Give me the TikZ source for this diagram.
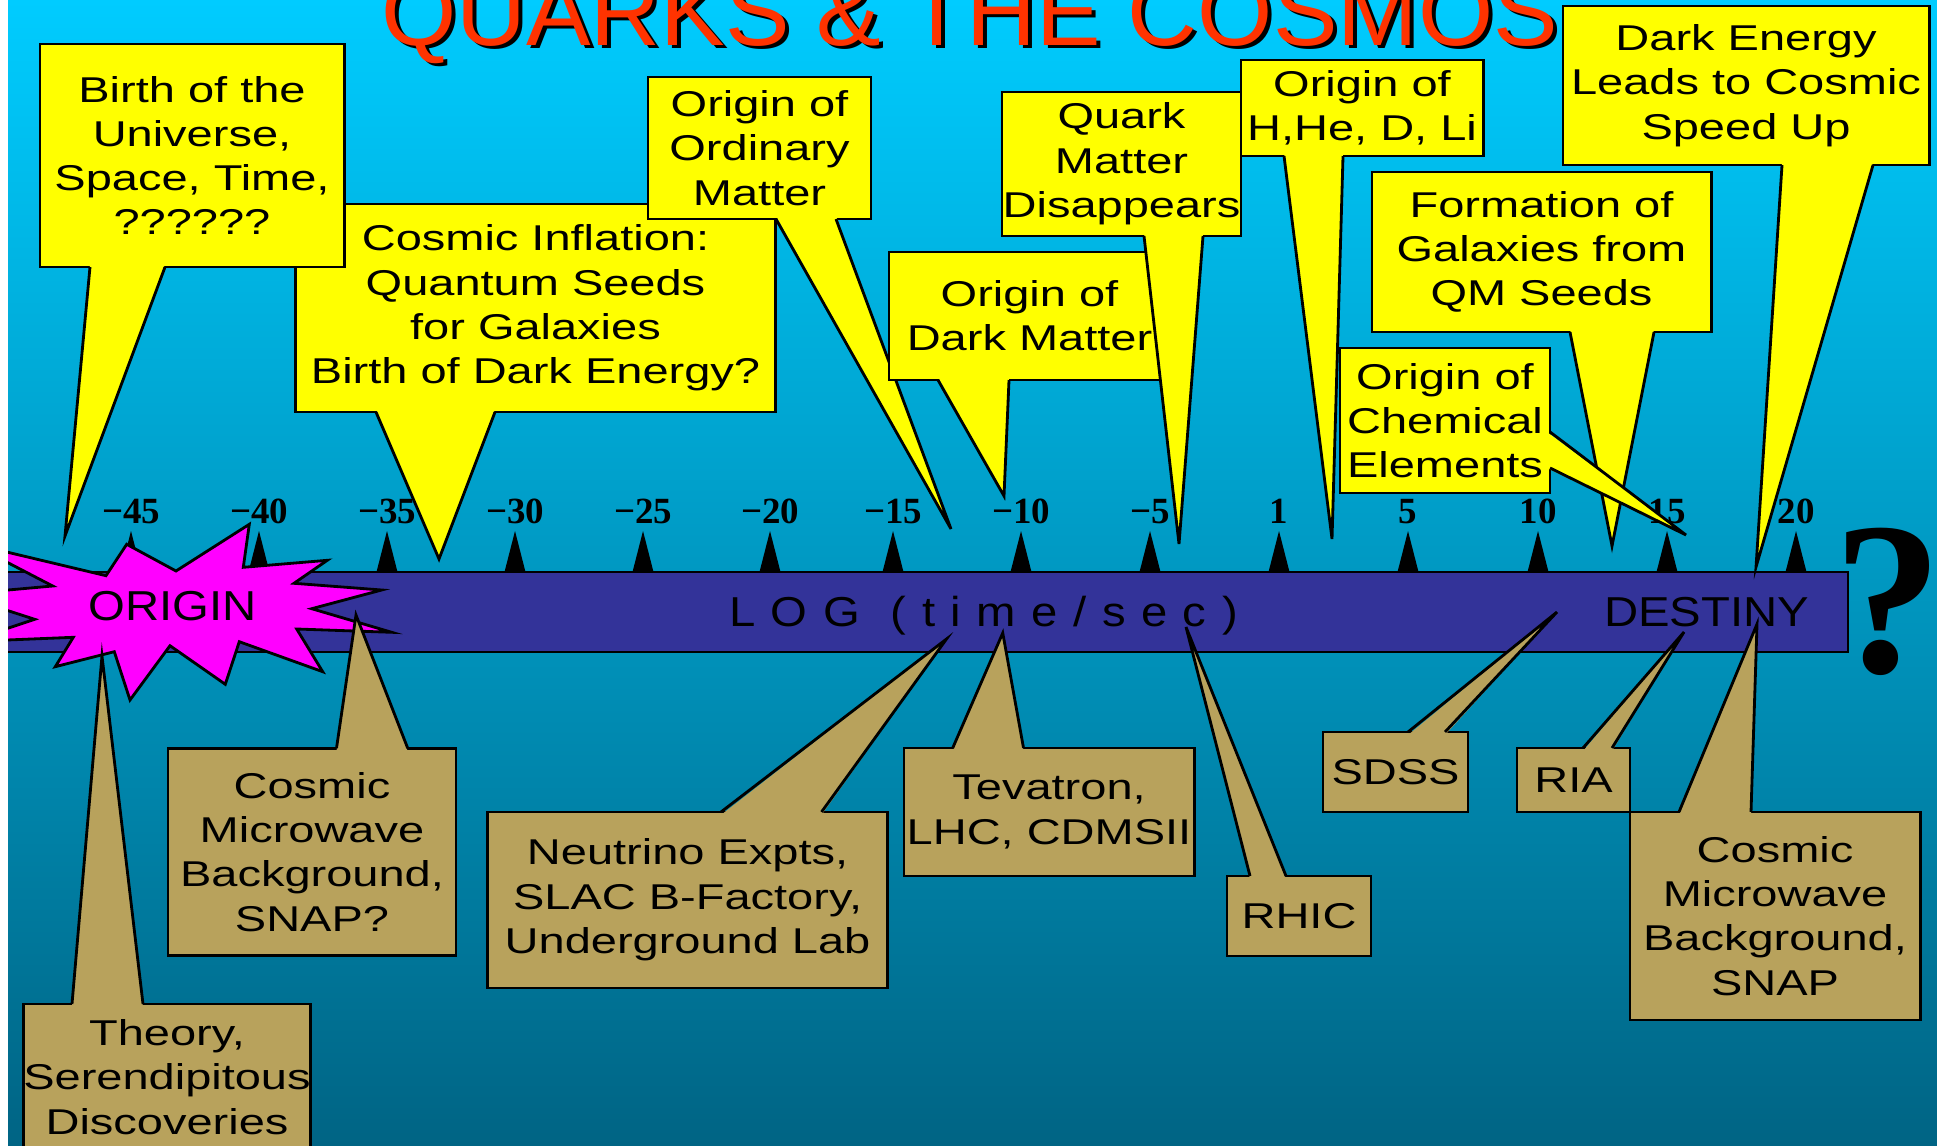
\documentclass[tikz,border=0pt]{standalone}
\usepackage{fontspec}
\setmainfont{Liberation Sans}
\newfontfamily\calloutfont{Liberation Sans}[FakeStretch=1.31]
\newfontfamily\barfont{Liberation Sans}[FakeStretch=1.13]
\newfontfamily\tickfont{Liberation Serif}
\newfontfamily\markfont{Liberation Serif}
\usepackage{xcolor}
\usepackage{tikz}
\usetikzlibrary{calc}

\definecolor{skytop}{RGB}{0,204,255}
\definecolor{skybottom}{RGB}{0,100,132}
\definecolor{barblue}{RGB}{51,51,153}
\definecolor{starpink}{RGB}{255,0,255}
\definecolor{idyellow}{RGB}{255,255,0}
\definecolor{exptan}{RGB}{184,162,92}
\definecolor{titlered}{RGB}{255,51,0}

\begin{document}
\begin{tikzpicture}[
  x=0.01cm, y=-0.01cm,
  idea/.style={draw, line width=0.8pt, fill=idyellow, outer sep=0pt, inner sep=0pt,
               align=center, font=\calloutfont\fontsize{10.2}{12.6}\selectfont},
  expt/.style={idea, fill=exptan},
  ptr/.style={line width=0.8pt},
  barlabel/.style={font=\barfont\fontsize{11.9}{14}\selectfont, inner sep=0pt, anchor=base},
  ticklabel/.style={font=\tickfont\bfseries\fontsize{10.5}{11}\selectfont, inner sep=0pt, anchor=base},
]
\useasboundingbox (0,0) rectangle (1937,1146);
\clip (0,0) rectangle (1937,1146);

%% ─── Background, title ───────────────────────────────────────────────────────
\shade[top color=skytop, bottom color=skybottom] (0,0) rectangle (1937,1146);
\node[font=\fontsize{27.5}{30}\selectfont, text=black, anchor=base, inner sep=0pt]
  (title-shadow) at (973.5,49) {QUARKS \& THE COSMOS};
\node[font=\fontsize{27.5}{30}\selectfont, text=titlered, anchor=base, inner sep=0pt]
  (title) at (969.5,46) {QUARKS \& THE COSMOS};

%% ─── Time axis ───────────────────────────────────────────────────────────────
\draw[fill=barblue, line width=0.8pt] (-20,572) rectangle (1848,652);
\foreach \x/\val in {131/−45, 259/−40, 387/−35, 515/−30, 643/−25, 770/−20, 893/−15,
                     1021/−10, 1150/−5, 1279/1, 1408/5, 1538/10, 1667/15, 1796/20} {
  \fill (\x-10.5,572) -- (\x,531) -- (\x+10.5,572) -- cycle;
  \node[ticklabel] (tick\x) at (\x,523) {\val};
}

%% origin star
\draw[fill=starpink, line width=0.8pt]
  (126.7,544.3) -- (176,571) -- (249.3,524.3) -- (243.3,567.3) -- (327.3,560.3)
  -- (294,583.3) -- (381.7,590) -- (311.7,608.7) -- (391.7,632.3) -- (296.7,629)
  -- (322.7,671.7) -- (239.3,641.7) -- (225.3,684.3) -- (170,645.7) -- (130,700)
  -- (114.3,651.7) -- (55.3,666.7) -- (73.3,637.3) -- (-32,641.6) -- (34.7,619.3)
  -- (-42,594.5) -- (52.7,586) -- (-29,543.5) -- (106,575.7) -- cycle;

\node[barlabel] (origin)  at (172.7,620.7) {ORIGIN};
\node[barlabel] (logtime) at (983.5,626)   {\spaceskip=4.4pt L O G \ ( t i m e / s e c )};
\node[barlabel] (destiny) at (1706.5,626)  {DESTINY};

%% ─── Yellow callouts (above the axis) ────────────────────────────────────────
\node[idea, minimum width=4.79cm, minimum height=2.08cm] (inflation) at (535.5,308)
  {Cosmic Inflation:\\Quantum Seeds\\for Galaxies\\Birth of Dark Energy?};
\coordinate (inflation-tip) at (439,559);
\fill[idyellow] ($(inflation.south -| 376,0)+(0,-3)$) -- (inflation-tip) -- ($(inflation.south -| 495,0)+(0,-3)$) -- cycle;
\draw[ptr] (inflation.south -| 376,0) -- (inflation-tip) -- (inflation.south -| 495,0);

\node[idea, minimum width=3.04cm, minimum height=2.23cm] (birth) at (192,155.5)
  {Birth of the\\Universe,\\Space, Time,\\??????};
\coordinate (birth-tip) at (65,536);
\fill[idyellow] ($(birth.south -| 90,0)+(0,-3)$) -- (birth-tip) -- ($(birth.south -| 165,0)+(0,-3)$) -- cycle;
\draw[ptr] (birth.south -| 90,0) -- (birth-tip) -- (birth.south -| 165,0);

\node[idea, minimum width=2.23cm, minimum height=1.42cm] (ordinary) at (759.5,148)
  {Origin of\\Ordinary\\Matter};
\coordinate (ordinary-tip) at (951,529);
\fill[idyellow] ($(ordinary.south -| 776,0)+(0,-3)$) -- (ordinary-tip) -- ($(ordinary.south -| 836,0)+(0,-3)$) -- cycle;
\draw[ptr] (ordinary.south -| 776,0) -- (ordinary-tip) -- (ordinary.south -| 836,0);

\node[idea, minimum width=2.81cm, minimum height=1.28cm] (darkmatter) at (1029.5,316)
  {Origin of\\Dark Matter};
\coordinate (darkmatter-tip) at (1004,496);
\fill[idyellow] ($(darkmatter.south -| 938,0)+(0,-3)$) -- (darkmatter-tip) -- ($(darkmatter.south -| 1009,0)+(0,-3)$) -- cycle;
\draw[ptr] (darkmatter.south -| 938,0) -- (darkmatter-tip) -- (darkmatter.south -| 1009,0);

\node[idea, minimum width=2.39cm, minimum height=1.44cm] (quark) at (1121.5,164)
  {Quark\\Matter\\Disappears};
\coordinate (quark-tip) at (1179,544);
\fill[idyellow] ($(quark.south -| 1144,0)+(0,-3)$) -- (quark-tip) -- ($(quark.south -| 1203,0)+(0,-3)$) -- cycle;
\draw[ptr] (quark.south -| 1144,0) -- (quark-tip) -- (quark.south -| 1203,0);

\node[idea, minimum width=2.42cm, minimum height=0.96cm] (nuclei) at (1362,108)
  {Origin of\\H,He, D, Li};
\coordinate (nuclei-tip) at (1332,539);
\fill[idyellow] ($(nuclei.south -| 1284,0)+(0,-3)$) -- (nuclei-tip) -- ($(nuclei.south -| 1343,0)+(0,-3)$) -- cycle;
\draw[ptr] (nuclei.south -| 1284,0) -- (nuclei-tip) -- (nuclei.south -| 1343,0);

\node[idea, minimum width=3.39cm, minimum height=1.60cm] (galaxies) at (1541.5,252)
  {Formation of\\Galaxies from\\QM Seeds};
\coordinate (galaxies-tip) at (1612,546);
\fill[idyellow] ($(galaxies.south -| 1570,0)+(0,-3)$) -- (galaxies-tip) -- ($(galaxies.south -| 1654,0)+(0,-3)$) -- cycle;
\draw[ptr] (galaxies.south -| 1570,0) -- (galaxies-tip) -- (galaxies.south -| 1654,0);

\node[idea, minimum width=2.10cm, minimum height=1.45cm] (elements) at (1445,420.5)
  {Origin of\\Chemical\\Elements};
\coordinate (elements-tip) at (1686,535);
\fill[idyellow] ($(elements.east |- 0,432)+(-3,0)$) -- (elements-tip) -- ($(elements.east |- 0,468)+(-3,0)$) -- cycle;
\draw[ptr] (elements.east |- 0,432) -- (elements-tip) -- (elements.east |- 0,468);

\node[idea, minimum width=3.66cm, minimum height=1.59cm] (speedup) at (1746,85.5)
  {Dark Energy\\Leads to Cosmic\\Speed Up};
\coordinate (speedup-tip) at (1756,567);
\fill[idyellow] ($(speedup.south -| 1782,0)+(0,-3)$) -- (speedup-tip) -- ($(speedup.south -| 1873,0)+(0,-3)$) -- cycle;
\draw[ptr] (speedup.south -| 1782,0) -- (speedup-tip) -- (speedup.south -| 1873,0);

%% ─── Tan callouts (below the axis) ───────────────────────────────────────────
\node[expt, minimum width=2.875cm, minimum height=1.46cm] (theory) at (167,1077)
  {Theory,\\Serendipitous\\Discoveries};
\coordinate (theory-tip) at (102,656);
\fill[exptan] ($(theory.north -| 72,0)+(0,3)$) -- (theory-tip) -- ($(theory.north -| 143,0)+(0,3)$) -- cycle;
\draw[ptr] (theory.north -| 72,0) -- (theory-tip) -- (theory.north -| 143,0);

\node[expt, minimum width=2.88cm, minimum height=2.075cm] (cmbsnapq) at (312,852)
  {Cosmic\\Microwave\\Background,\\SNAP?};
\coordinate (cmbsnapq-tip) at (356,615);
\fill[exptan] ($(cmbsnapq.north -| 336.5,0)+(0,3)$) -- (cmbsnapq-tip) -- ($(cmbsnapq.north -| 407.7,0)+(0,3)$) -- cycle;
\draw[ptr] (cmbsnapq.north -| 336.5,0) -- (cmbsnapq-tip) -- (cmbsnapq.north -| 407.7,0);

\node[expt, minimum width=4.00cm, minimum height=1.76cm] (neutrino) at (687.6,900)
  {Neutrino Expts,\\SLAC B-Factory,\\Underground Lab};
\coordinate (neutrino-tip) at (946.5,639);
\fill[exptan] ($(neutrino.north -| 721,0)+(0,3)$) -- (neutrino-tip) -- ($(neutrino.north -| 821.5,0)+(0,3)$) -- cycle;
\draw[ptr] (neutrino.north -| 721,0) -- (neutrino-tip) -- (neutrino.north -| 821.5,0);

\node[expt, minimum width=2.90cm, minimum height=1.28cm] (tevatron) at (1049,812)
  {Tevatron,\\LHC, CDMSII};
\coordinate (tevatron-tip) at (1002.75,633);
\fill[exptan] ($(tevatron.north -| 952.7,0)+(0,3)$) -- (tevatron-tip) -- ($(tevatron.north -| 1023.5,0)+(0,3)$) -- cycle;
\draw[ptr] (tevatron.north -| 952.7,0) -- (tevatron-tip) -- (tevatron.north -| 1023.5,0);

\node[expt, minimum width=1.44cm, minimum height=0.80cm] (rhic) at (1299,916) {RHIC};
\coordinate (rhic-tip) at (1186,627);
\fill[exptan] ($(rhic.north -| 1250,0)+(0,3)$) -- (rhic-tip) -- ($(rhic.north -| 1286,0)+(0,3)$) -- cycle;
\draw[ptr] (rhic.north -| 1250,0) -- (rhic-tip) -- (rhic.north -| 1286,0);

\node[expt, minimum width=1.45cm, minimum height=0.80cm] (sdss) at (1395.5,772) {SDSS};
\coordinate (sdss-tip) at (1557,612);
\fill[exptan] ($(sdss.north -| 1408,0)+(0,3)$) -- (sdss-tip) -- ($(sdss.north -| 1445,0)+(0,3)$) -- cycle;
\draw[ptr] (sdss.north -| 1408,0) -- (sdss-tip) -- (sdss.north -| 1445,0);

\node[expt, minimum width=1.13cm, minimum height=0.64cm] (ria) at (1573.5,780) {RIA};
\coordinate (ria-tip) at (1684,632);
\fill[exptan] ($(ria.north -| 1583,0)+(0,3)$) -- (ria-tip) -- ($(ria.north -| 1612,0)+(0,3)$) -- cycle;
\draw[ptr] (ria.north -| 1583,0) -- (ria-tip) -- (ria.north -| 1612,0);

\node[expt, minimum width=2.90cm, minimum height=2.08cm] (cmbsnap) at (1775,916)
  {Cosmic\\Microwave\\Background,\\SNAP};
\coordinate (cmbsnap-tip) at (1757,624);
\fill[exptan] ($(cmbsnap.north -| 1679,0)+(0,3)$) -- (cmbsnap-tip) -- ($(cmbsnap.north -| 1751,0)+(0,3)$) -- cycle;
\draw[ptr] (cmbsnap.north -| 1679,0) -- (cmbsnap-tip) -- (cmbsnap.north -| 1751,0);

%% ─── Destiny mark, left margin ───────────────────────────────────────────────
\node[font=\markfont\bfseries\fontsize{62}{62}\selectfont, anchor=base, inner sep=0pt]
  (unknown) at (1888,672) {?};
\fill[white] (0,0) rectangle (8,1146);

\end{tikzpicture}
\end{document}
